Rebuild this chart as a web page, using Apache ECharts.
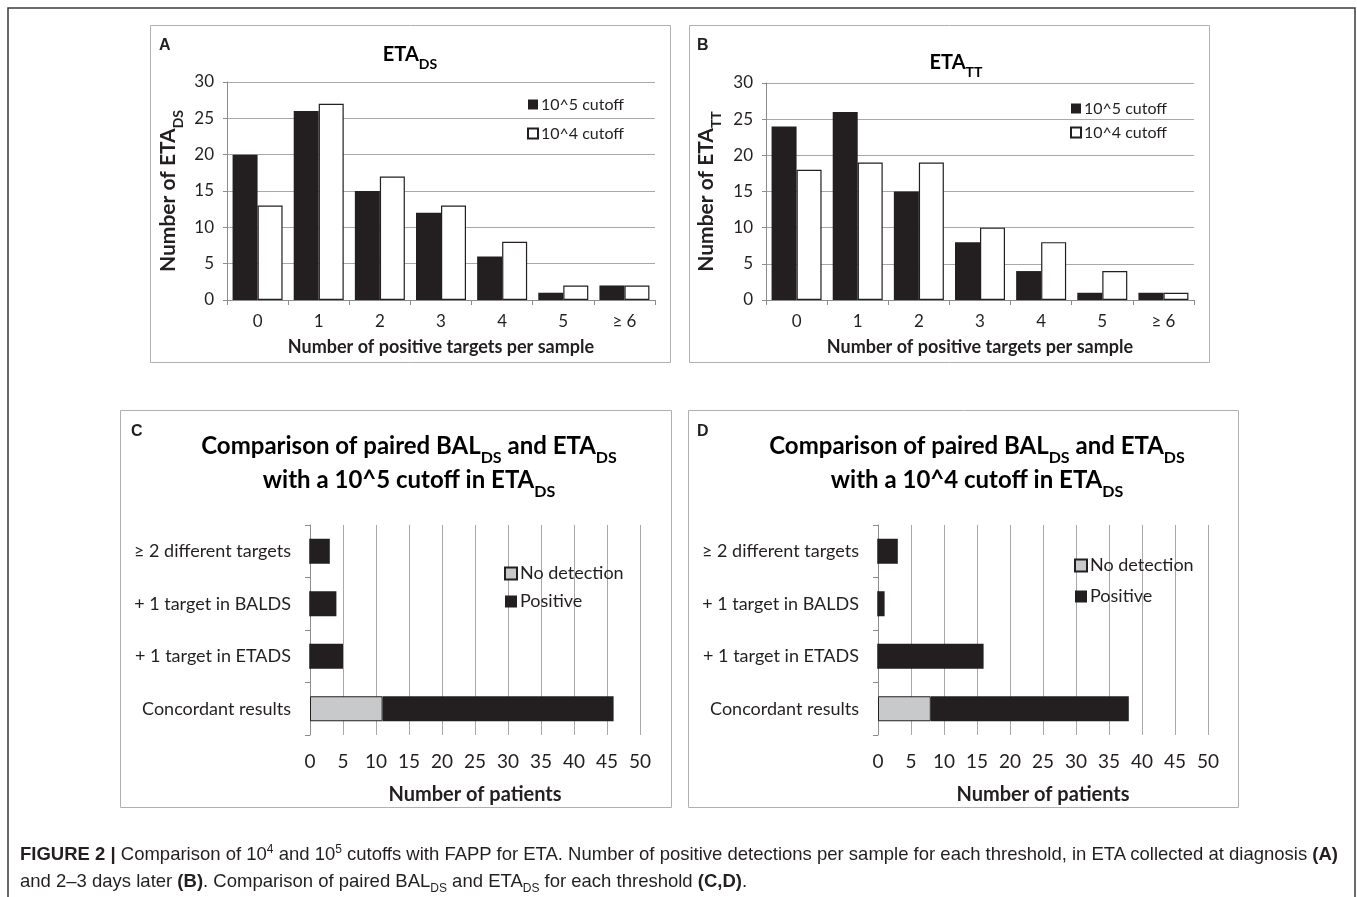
<!DOCTYPE html>
<html>
<head>
<meta charset="utf-8">
<script src="https://cdn.jsdelivr.net/npm/echarts@6/dist/echarts.min.js"></script>
<style>
  html, body { margin: 0; padding: 0; background: #fff; }
  #wrap { position: relative; width: 1357px; height: 897px; }
  #main { width: 1357px; height: 897px; }
  #caption {
    position: absolute; left: 20px; top: 840px;
    font-family: 'Liberation Sans', Arial, sans-serif; font-size: 18.5px; line-height: 27px;
    color: #231f20; white-space: nowrap; transform-origin: 0 0;
  }
  #caption sup, #caption sub { font-size: 12px; line-height: 0; }
</style>
</head>
<body>
<div id="wrap">
  <div id="main"></div>
  <div id="caption"><b>FIGURE 2 |</b> Comparison of 10<sup>4</sup> and 10<sup>5</sup> cutoffs with FAPP for ETA. Number of positive detections per sample for each threshold, in ETA collected at diagnosis <b>(A)</b><br>and 2–3 days later <b>(B)</b>. Comparison of paired BAL<sub>DS</sub> and ETA<sub>DS</sub> for each threshold <b>(C,D)</b>.</div>
</div>
<script>
// panel A / B: number of positive targets per sample
const targetCats = ['0', '1', '2', '3', '4', '5', '≥ 6']
const dsCut5 = [20, 26, 15, 12, 6, 1, 2]
const dsCut4 = [13, 27, 17, 13, 8, 2, 2]
const ttCut5 = [24, 26, 15, 8, 4, 1, 1]
const ttCut4 = [18, 19, 19, 10, 8, 4, 1]

// panel C / D: paired BAL_DS vs ETA_DS (top to bottom)
const pairCats = ['≥ 2 different targets', '+ 1 target in BALDS', '+ 1 target in ETADS', 'Concordant results']
const c5NoDetection = [0, 0, 0, 11]
const c5Positive = [3, 4, 5, 35]
const c4NoDetection = [0, 0, 0, 8]
const c4Positive = [3, 1, 16, 30]

const patientTicks = { min: 0, max: 50, interval: 5 }
const countTicks = { min: 0, max: 30, interval: 5 }

const INK = '#231f20'
const GRID = '#a8a8a8'
const AXIS = '#8c8c8c'
const FONT = 'Lato, "Open Sans", sans-serif'

function subRich (size, sub) {
  return {
    m: { fontSize: size, fontWeight: 'bold', fontFamily: FONT, color: INK, verticalAlign: 'bottom', padding: [0, 0, Math.round(size * 0.28), 0] },
    s: { fontSize: sub, fontWeight: 'bold', fontFamily: FONT, color: INK, verticalAlign: 'bottom' }
  }
}

function countX (idx) {
  return {
    gridIndex: idx,
    type: 'category',
    data: targetCats,
    axisLine: { lineStyle: { color: AXIS } },
    axisTick: { show: true, length: 5, interval: 0, lineStyle: { color: AXIS } },
    axisLabel: { margin: 13, fontSize: 17, color: INK, fontFamily: FONT },
    name: 'Number of positive targets per sample',
    nameLocation: 'middle',
    nameGap: 38,
    nameTextStyle: { fontSize: 18, fontWeight: 'bold', color: INK, fontFamily: FONT }
  }
}

function countY (idx, sub, gap) {
  return {
    gridIndex: idx,
    type: 'value',
    min: countTicks.min,
    max: countTicks.max,
    interval: countTicks.interval,
    axisLine: { show: true, lineStyle: { color: AXIS } },
    axisTick: { show: true, length: 4, lineStyle: { color: AXIS } },
    splitLine: { lineStyle: { color: GRID } },
    axisLabel: { margin: 13, fontSize: 17, color: INK, fontFamily: FONT },
    name: '{m|Number of ETA}{s|' + sub + '}',
    nameLocation: 'middle',
    nameGap: gap,
    nameTextStyle: { rich: subRich(21, 14) }
  }
}

function patientX (idx) {
  return {
    gridIndex: idx,
    type: 'value',
    min: patientTicks.min,
    max: patientTicks.max,
    interval: patientTicks.interval,
    axisLine: { show: false },
    axisTick: { show: false },
    splitLine: { lineStyle: { color: GRID } },
    axisLabel: { margin: 17, fontSize: 19, color: INK, fontFamily: FONT },
    name: 'Number of patients',
    nameLocation: 'middle',
    nameGap: 50,
    nameTextStyle: { fontSize: 20, fontWeight: 'bold', color: INK, fontFamily: FONT }
  }
}

function pairY (idx) {
  return {
    gridIndex: idx,
    type: 'category',
    data: pairCats,
    inverse: true,
    axisLine: { show: true, lineStyle: { color: AXIS } },
    axisTick: { show: true, length: 5, interval: 0, lineStyle: { color: AXIS } },
    axisLabel: { margin: 19, fontSize: 18, color: INK, fontFamily: FONT }
  }
}

function legendAt (names, left, top, size, gap, font) {
  return {
    data: names,
    orient: 'vertical',
    left: left,
    top: top,
    padding: 0,
    icon: 'rect',
    itemWidth: size,
    itemHeight: size,
    itemGap: gap,
    selectedMode: false,
    textStyle: { fontSize: font, lineHeight: font + 3, color: INK, fontFamily: FONT, padding: [0, 0, 0, -2] }
  }
}

function box (x1, y1, x2, y2, color, w) {
  return { type: 'rect', silent: true, shape: { x: x1, y: y1, width: x2 - x1, height: y2 - y1 }, style: { fill: 'none', stroke: color, lineWidth: w } }
}

function label (text, x, y, rich, size) {
  return {
    type: 'text', x: x, y: y, silent: true,
    style: rich
      ? { text: text, rich: rich, align: 'center', verticalAlign: 'middle' }
      : { text: text, fontSize: size, fontWeight: 'bold', fontFamily: '"Liberation Sans", Arial, sans-serif', fill: INK, align: 'left', verticalAlign: 'middle' }
  }
}

let myChart = echarts.init(document.getElementById('main'))
myChart.setOption({
  animation: false,
  backgroundColor: '#fff',
  textStyle: { fontFamily: FONT, color: INK },
  grid: [
    { left: 227, top: 82, width: 428, height: 218 },
    { left: 766, top: 83, width: 428, height: 217 },
    { left: 310, top: 525, width: 330, height: 210 },
    { left: 878, top: 525, width: 330, height: 210 }
  ],
  xAxis: [countX(0), countX(1), patientX(2), patientX(3)],
  yAxis: [countY(0, 'DS', 42), countY(1, 'TT', 43), pairY(2), pairY(3)],
  legend: [
    legendAt(['10^5 cutoff', '10^4 cutoff'], 527, 95, 10, 10, 16),
    legendAt(['10^5 cutoff', '10^4 cutoff'], 1070, 99, 10, 5, 16),
    legendAt(['No detection', 'Positive'], 504, 563, 12, 7, 18),
    legendAt(['No detection', 'Positive'], 1074, 555, 12, 10, 18)
  ],
  series: [
    { name: '10^5 cutoff', type: 'bar', xAxisIndex: 0, yAxisIndex: 0, data: dsCut5, barWidth: 25, barGap: '0%', itemStyle: { color: INK } },
    { name: '10^4 cutoff', type: 'bar', xAxisIndex: 0, yAxisIndex: 0, data: dsCut4, barWidth: 25, barGap: '0%', itemStyle: { color: '#fff', borderColor: INK, borderWidth: 1.2 } },
    { name: '10^5 cutoff', type: 'bar', xAxisIndex: 1, yAxisIndex: 1, data: ttCut5, barWidth: 25, barGap: '0%', itemStyle: { color: INK } },
    { name: '10^4 cutoff', type: 'bar', xAxisIndex: 1, yAxisIndex: 1, data: ttCut4, barWidth: 25, barGap: '0%', itemStyle: { color: '#fff', borderColor: INK, borderWidth: 1.2 } },
    { name: 'No detection', type: 'bar', xAxisIndex: 2, yAxisIndex: 2, stack: 'c5', data: c5NoDetection, barWidth: 25, itemStyle: { color: '#c8c9cb', borderColor: INK, borderWidth: 1 } },
    { name: 'Positive', type: 'bar', xAxisIndex: 2, yAxisIndex: 2, stack: 'c5', data: c5Positive, barWidth: 25, itemStyle: { color: INK } },
    { name: 'No detection', type: 'bar', xAxisIndex: 3, yAxisIndex: 3, stack: 'c4', data: c4NoDetection, barWidth: 25, itemStyle: { color: '#c8c9cb', borderColor: INK, borderWidth: 1 } },
    { name: 'Positive', type: 'bar', xAxisIndex: 3, yAxisIndex: 3, stack: 'c4', data: c4Positive, barWidth: 25, itemStyle: { color: INK } }
  ],
  graphic: [
    box(8, 8, 1355, 905, '#3a3a3a', 1.5),
    box(150.5, 25.5, 670.5, 362.5, '#b0b0b0', 1),
    box(689.5, 25.5, 1209.5, 362.5, '#b0b0b0', 1),
    box(120.5, 410.5, 671.5, 807.5, '#b0b0b0', 1),
    box(688.5, 410.5, 1238.5, 807.5, '#b0b0b0', 1),
    label('A', 159, 46, null, 16),
    label('B', 697, 46, null, 16),
    label('C', 131, 432, null, 16),
    label('D', 697, 432, null, 16),
    label('{m|ETA}{s|DS}', 410, 58, subRich(20, 14)),
    label('{m|ETA}{s|TT}', 956, 66, subRich(20, 14)),
    label('{m|Comparison of paired BAL}{s|DS}{m| and ETA}{s|DS}', 409, 450, subRich(24, 16)),
    label('{m|with a 10^5 cutoff in ETA}{s|DS}', 409, 484, subRich(24, 16)),
    label('{m|Comparison of paired BAL}{s|DS}{m| and ETA}{s|DS}', 977, 450, subRich(24, 16)),
    label('{m|with a 10^4 cutoff in ETA}{s|DS}', 977, 484, subRich(24, 16))
  ]
})
</script>
</body>
</html>
